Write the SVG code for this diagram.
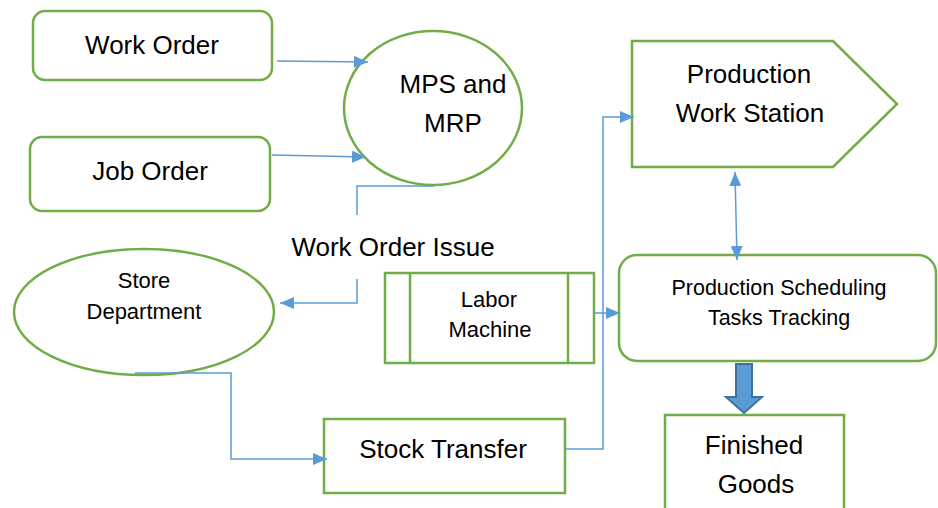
<svg xmlns="http://www.w3.org/2000/svg" width="938" height="508" viewBox="0 0 938 508">
<defs>
<style>
.n{fill:#fff;stroke:#70ad47;stroke-width:2.5}
.c{fill:none;stroke:#5b9bd5;stroke-width:1.5}
.t{font-family:"Liberation Sans",Arial,sans-serif;font-size:26px;fill:#000;text-anchor:middle}
.s{font-family:"Liberation Sans",Arial,sans-serif;font-size:22px;fill:#000;text-anchor:middle}
.p{font-family:"Liberation Sans",Arial,sans-serif;font-size:21.5px;fill:#000;text-anchor:middle}
</style>
<marker id="arr" viewBox="0 0 14 12" refX="14" refY="6" markerWidth="14" markerHeight="12" markerUnits="userSpaceOnUse" orient="auto-start-reverse">
<path d="M0,0 L14,6 L0,12 z" fill="#5b9bd5"/>
</marker>
</defs>
<rect width="938" height="508" fill="#fff"/>

<g id="work-order">
<rect class="n" x="33" y="11" width="239" height="69" rx="12"/>
<text class="t" x="152" y="54">Work Order</text>
</g>
<g id="job-order">
<rect class="n" x="30" y="137" width="240" height="74" rx="12"/>
<text class="t" x="150" y="180">Job Order</text>
</g>
<g id="mps-mrp">
<ellipse class="n" cx="433" cy="108" rx="89" ry="77"/>
<text class="t" x="453" y="93">MPS and</text>
<text class="t" x="453" y="132">MRP</text>
</g>
<g id="work-order-issue">
<text class="t" x="393" y="256">Work Order Issue</text>
</g>
<g id="store-department">
<ellipse class="n" cx="144" cy="312" rx="130" ry="63"/>
<text class="s" x="144" y="288">Store</text>
<text class="s" x="144" y="319">Department</text>
</g>
<g id="labor-machine">
<rect class="n" x="385" y="273" width="209" height="90"/>
<line class="n" x1="410" y1="273" x2="410" y2="363"/>
<line class="n" x1="568" y1="273" x2="568" y2="363"/>
<text class="s" x="489" y="307">Labor</text>
<text class="s" x="490" y="337">Machine</text>
</g>
<g id="stock-transfer">
<rect class="n" x="324" y="419" width="241" height="74"/>
<text class="t" x="443" y="458">Stock Transfer</text>
</g>
<g id="production-work-station">
<polygon class="n" points="632,41 833,41 897,104 833,167 632,167"/>
<text class="t" x="749" y="83">Production</text>
<text class="t" x="750" y="122">Work Station</text>
</g>
<g id="production-scheduling">
<rect class="n" x="619" y="255" width="317" height="106" rx="18"/>
<text class="p" x="779" y="295">Production Scheduling</text>
<text class="p" x="779" y="325">Tasks Tracking</text>
</g>
<g id="finished-goods">
<rect class="n" x="665" y="415" width="179" height="110"/>
<text class="t" x="754" y="454">Finished</text>
<text class="t" x="756" y="493">Goods</text>
</g>

<g id="connectors">
<line class="c" x1="277" y1="61" x2="368" y2="62" marker-end="url(#arr)"/>
<line class="c" x1="272" y1="155" x2="366" y2="157" marker-end="url(#arr)"/>
<polyline class="c" points="434,186 357,186 357,215"/>
<polyline class="c" points="357,279 357,303 280,303" marker-end="url(#arr)"/>
<polyline class="c" points="135,373 231,373 231,459 327,459" marker-end="url(#arr)"/>
<polyline class="c" points="565,449 603,449 603,117 634,117" marker-end="url(#arr)"/>
<line class="c" x1="594" y1="313" x2="620" y2="313" marker-end="url(#arr)"/>
<line class="c" x1="735" y1="172" x2="737" y2="260" marker-start="url(#arr)" marker-end="url(#arr)"/>
<polygon points="736,364 752,364 752,397 762,397 744,413 726,397 736,397" fill="#5b9bd5" stroke="#41719c" stroke-width="2"/>
</g>
</svg>
